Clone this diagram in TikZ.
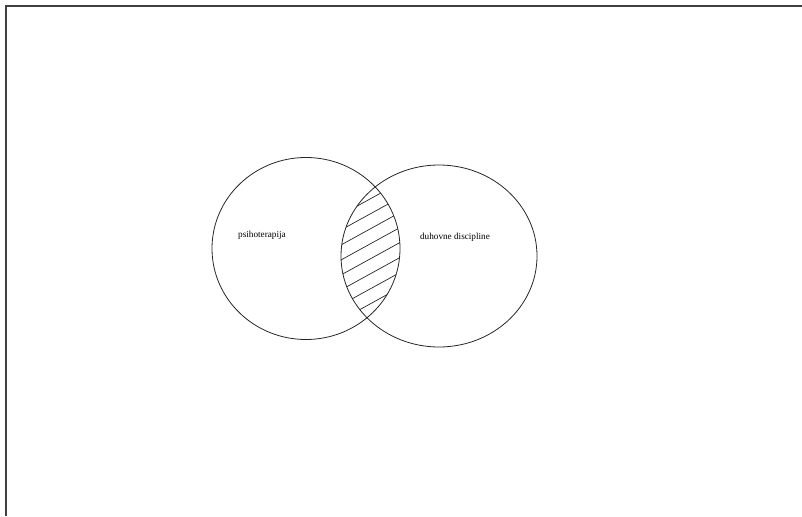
\documentclass[tikz,border=0pt]{standalone}
\usepackage{fontspec}
\setmainfont{Liberation Serif}
\usepackage{tikz}
\usetikzlibrary{positioning}

\begin{document}
\begin{tikzpicture}[
    x=1pt, y=-1pt,
    setline/.style={draw=black!85, line width=0.8pt},
    hatchline/.style={draw=black!85, line width=0.7pt},
    framebar/.style={draw=black!75, line width=2.6pt},
    setlabel/.style={font=\fontsize{9.2}{11}\selectfont, inner sep=1pt}
]
    \useasboundingbox (0,0) rectangle (802,516);

    % window edge
    \draw[framebar] (6,516) -- (6,6) -- (802,6);

    % hatching of the overlap
    \begin{scope}
        \clip (306,248.5) ellipse [x radius=94, y radius=91];
        \clip (439,256) ellipse [x radius=98, y radius=91];
        \foreach \c in {357.5,372.5,...,567.5}
            \draw[hatchline] (330,\c-181.5) -- (410,\c-225.5);
    \end{scope}

    % the two sets
    \draw[setline] (306,248.5) ellipse [x radius=94, y radius=91];
    \draw[setline] (439,256) ellipse [x radius=98, y radius=91];

    \node[setlabel] (psiho) at (262,235) {psihoterapija};
    \node[setlabel] (duhov) at (455,237) {duhovne discipline};
\end{tikzpicture}
\end{document}
